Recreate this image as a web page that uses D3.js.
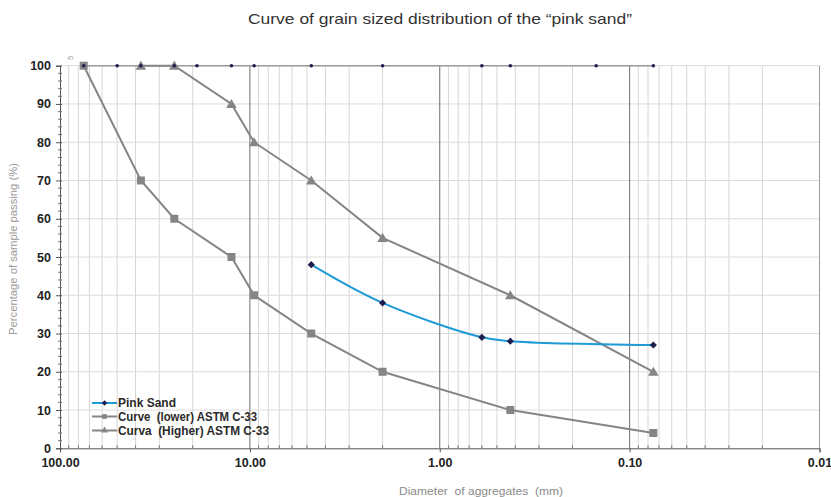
<!DOCTYPE html>
<html>
<head>
<meta charset="utf-8">
<script src="https://cdn.jsdelivr.net/npm/d3@7"></script>
<style>
  html, body { margin: 0; padding: 0; background: #fff; }
  svg { display: block; font-family: Arial, "Liberation Sans", sans-serif; }
</style>
</head>
<body>
<svg id="chart" width="831" height="497"></svg>
<script>
// ---- data ----
const title = "Curve of grain sized distribution of the \u201cpink sand\u201d";
const xTickValues = [100, 10, 1, 0.1, 0.01];
const xTickLabels = ["100.00", "10.00", "1.00", "0.10", "0.01"];
const yTickValues = [0, 10, 20, 30, 40, 50, 60, 70, 80, 90, 100];

const sieveSizes = [75, 50, 37.5, 25, 19, 12.5, 9.5, 4.75, 2.0, 0.6, 0.425, 0.15, 0.075];
const sieveValues = [100, 100, 100, 100, 100, 100, 100, 100, 100, 100, 100, 100, 100];

const lowerSizes = [75, 37.5, 25, 12.5, 9.5, 4.75, 2.0, 0.425, 0.075];
const lowerValues = [100, 70, 60, 50, 40, 30, 20, 10, 4];

const upperSizes = [37.5, 25, 12.5, 9.5, 4.75, 2.0, 0.425, 0.075];
const upperValues = [100, 100, 90, 80, 70, 55, 40, 20];

const pinkSizes = [4.75, 2.0, 0.6, 0.425, 0.075];
const pinkValues = [48, 38, 29, 28, 27];

const legendNames = ["Pink Sand", "Curve  (lower) ASTM C-33", "Curva  (Higher) ASTM C-33"];

// ---- layout ----
const svg = d3.select("#chart");
const L = 60, R = 819.5, T = 65.7, B = 448.3;
const x = d3.scaleLog().domain([100, 0.01]).range([L, R]);
const y = d3.scaleLinear().domain([0, 100]).range([B, T]);

const gray = "#858585";
const blue = "#1e9ad6";
const navy = "#1c1f4e";

// minor vertical grid
const minorX = [];
[10, 1, 0.1, 0.01].forEach(d => { for (let k = 2; k <= 9; k++) minorX.push(d * k); });
svg.append("g").selectAll("line").data(minorX).join("line")
  .attr("x1", d => x(d)).attr("x2", d => x(d))
  .attr("y1", T).attr("y2", B)
  .attr("stroke", "#d6d6d6").attr("stroke-width", 1);

// horizontal grid
svg.append("g").selectAll("line").data(yTickValues.filter(d => d > 0)).join("line")
  .attr("x1", L).attr("x2", R)
  .attr("y1", d => y(d)).attr("y2", d => y(d))
  .attr("stroke", "#dcdcdc").attr("stroke-width", 1);

// decade lines
svg.append("g").selectAll("line").data([10, 1, 0.1]).join("line")
  .attr("x1", d => x(d)).attr("x2", d => x(d))
  .attr("y1", T).attr("y2", B)
  .attr("stroke", "#6e6e6e").attr("stroke-width", 1);
svg.append("line").attr("x1", x(0.01)).attr("x2", x(0.01)).attr("y1", T).attr("y2", B)
  .attr("stroke", "#9a9a9a").attr("stroke-width", 1);

// axes
const yAxis = d3.axisLeft(y).tickValues(yTickValues).tickSize(4).tickFormat(d3.format("d"));
const gy = svg.append("g").attr("transform", `translate(${L},0)`).call(yAxis);
gy.select(".domain").attr("stroke", "#555");
gy.selectAll(".tick line").attr("stroke", "#555").attr("x2", -4).attr("x1", 2);
gy.selectAll(".tick text").attr("x", -9).attr("font-size", 12.5).attr("font-weight", "bold")
  .attr("fill", "#222").attr("font-family", "Arial, Liberation Sans, sans-serif");
// y minor ticks
const yMinor = d3.range(0, 101, 2).filter(d => d % 10 !== 0);
svg.append("g").selectAll("line").data(yMinor).join("line")
  .attr("x1", L - 2).attr("x2", L + 2)
  .attr("y1", d => y(d)).attr("y2", d => y(d))
  .attr("stroke", "#777").attr("stroke-width", 1);

const xAxis = d3.axisBottom(x).tickValues(xTickValues).tickSize(4)
  .tickFormat((d, i) => xTickLabels[i]);
const gx = svg.append("g").attr("transform", `translate(0,${B})`).call(xAxis);
gx.select(".domain").attr("stroke", "#555");
gx.selectAll(".tick line").attr("stroke", "#555");
gx.selectAll(".tick text").attr("y", 10).attr("font-size", 12.5).attr("font-weight", "bold")
  .attr("fill", "#222").attr("font-family", "Arial, Liberation Sans, sans-serif");
// x minor ticks
svg.append("g").selectAll("line").data(minorX).join("line")
  .attr("x1", d => x(d)).attr("x2", d => x(d))
  .attr("y1", B - 3).attr("y2", B)
  .attr("stroke", "#777").attr("stroke-width", 1);

// top sieve row series
const line = d3.line().x(d => x(d[0])).y(d => y(d[1]));
const smooth = d3.line().x(d => x(d[0])).y(d => y(d[1])).curve(d3.curveCatmullRom.alpha(0.5));
const sieveData = sieveSizes.map((s, i) => [s, sieveValues[i]]);
svg.append("path").datum(sieveData).attr("d", line)
  .attr("fill", "none").attr("stroke", "#9a9a9a").attr("stroke-width", 1.5);

const lowerData = lowerSizes.map((s, i) => [s, lowerValues[i]]);
const upperData = upperSizes.map((s, i) => [s, upperValues[i]]);
const pinkData = pinkSizes.map((s, i) => [s, pinkValues[i]]);

svg.append("path").datum(lowerData).attr("d", line)
  .attr("fill", "none").attr("stroke", gray).attr("stroke-width", 2);
svg.append("path").datum(upperData).attr("d", line)
  .attr("fill", "none").attr("stroke", gray).attr("stroke-width", 2);
svg.append("path").datum(pinkData).attr("d", smooth)
  .attr("fill", "none").attr("stroke", blue).attr("stroke-width", 2);

const sq = d3.symbol().type(d3.symbolSquare);
const tri = d3.symbol().type(d3.symbolTriangle);

svg.append("g").selectAll("path").data(lowerData).join("path")
  .attr("d", sq.size(64)())
  .attr("transform", d => `translate(${x(d[0])},${y(d[1])})`)
  .attr("fill", gray);
svg.append("g").selectAll("path").data(upperData).join("path")
  .attr("d", tri.size(48)())
  .attr("transform", d => `translate(${x(d[0])},${y(d[1]) + 1})`)
  .attr("fill", gray);
svg.append("g").selectAll("path").data(sieveData).join("circle")
  .attr("cx", d => x(d[0])).attr("cy", d => y(d[1])).attr("r", 1.8)
  .attr("fill", navy);
svg.append("g").selectAll("path").data(pinkData).join("path")
  .attr("d", sq.size(26)())
  .attr("transform", d => `translate(${x(d[0])},${y(d[1])}) rotate(45)`)
  .attr("fill", navy);

// tiny rotated mark near top-left
svg.append("text").attr("transform", `translate(73,60) rotate(-90)`)
  .attr("font-size", 8).attr("fill", "#999").text("5");

// legend
const legend = svg.append("g");
const legY = [403, 416.5, 430.5];
const legColors = [blue, gray, gray];
const legSym = [sq.size(14)(), sq.size(22)(), tri.size(20)()];
const legRot = [45, 0, 0];
const legFill = [navy, gray, gray];
const legLen = [58, 139, 151];
legendNames.forEach((name, i) => {
  legend.append("line").attr("x1", 92).attr("x2", 117).attr("y1", legY[i]).attr("y2", legY[i])
    .attr("stroke", legColors[i]).attr("stroke-width", 2);
  legend.append("path").attr("d", legSym[i])
    .attr("transform", `translate(104.5,${legY[i]}) rotate(${legRot[i]})`)
    .attr("fill", legFill[i]);
  legend.append("text").attr("x", 118).attr("y", legY[i] + 4.2)
    .attr("font-size", 12).attr("font-weight", "bold").attr("fill", "#2a2a2a")
    .attr("textLength", legLen[i]).attr("lengthAdjust", "spacingAndGlyphs")
    .style("white-space", "pre").text(name);
});

// titles
svg.append("text").attr("x", 440).attr("y", 24).attr("text-anchor", "middle")
  .attr("font-size", 15).attr("fill", "#333")
  .attr("textLength", 384).attr("lengthAdjust", "spacingAndGlyphs").text(title);
svg.append("text").attr("x", 481).attr("y", 495).attr("text-anchor", "middle")
  .attr("font-size", 11).attr("fill", "#8a8a8a").style("white-space", "pre")
  .attr("textLength", 164).attr("lengthAdjust", "spacingAndGlyphs")
  .text("Diameter  of aggregates  (mm)");
svg.append("text").attr("transform", `translate(17,249) rotate(-90)`)
  .attr("text-anchor", "middle").attr("font-size", 11).attr("fill", "#9a9a9a")
  .attr("textLength", 172).attr("lengthAdjust", "spacingAndGlyphs")
  .text("Percentage of sample passing (%)");
</script>
</body>
</html>
